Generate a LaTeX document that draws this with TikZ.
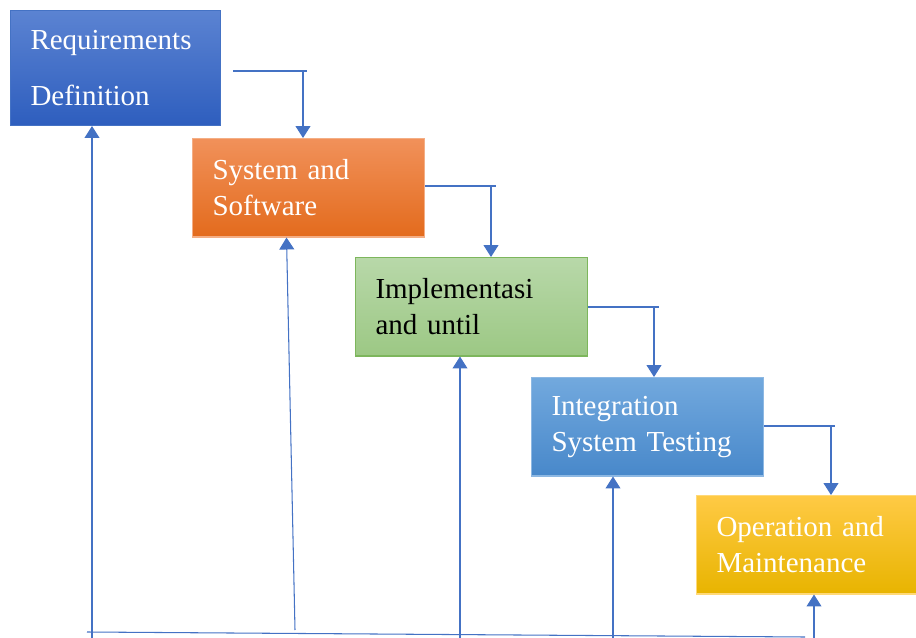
\documentclass[tikz,border=0pt]{standalone}
\usepackage{fontspec}
\setmainfont{Liberation Serif}
\usetikzlibrary{arrows.meta}

\definecolor{linkblue}{HTML}{4472C4}
\definecolor{rdtop}{HTML}{5B83D2}
\definecolor{rdbot}{HTML}{2E5EBE}
\definecolor{sstop}{HTML}{F1915A}
\definecolor{ssbot}{HTML}{E36B1D}
\definecolor{ssline}{HTML}{F4AE85}
\definecolor{imtop}{HTML}{B8D8A9}
\definecolor{imbot}{HTML}{9CC884}
\definecolor{imline}{HTML}{7DB65C}
\definecolor{ittop}{HTML}{72A9DE}
\definecolor{itbot}{HTML}{4888CA}
\definecolor{itline}{HTML}{8DB8E3}
\definecolor{omtop}{HTML}{FFCA45}
\definecolor{ombot}{HTML}{E8B400}
\definecolor{omline}{HTML}{FFD978}

\begin{document}
\begin{tikzpicture}[x=0.02cm,y=-0.02cm,
   phase/.style={rectangle,anchor=north west,align=left,inner xsep=0.4cm,inner ysep=0pt,
      text=white,font=\fontsize{16.5}{20.4}\selectfont,text width=3.84cm,minimum height=1.97cm,
      line width=0.6pt},
   link/.style={linkblue,line width=0.6pt},
   flow/.style={link,-{Triangle[length=6.8pt,width=8.5pt]}}]
   \useasboundingbox (0,0) rectangle (916,638);
   \node[phase,draw=linkblue,top color=rdtop,bottom color=rdbot,
      text width=3.4cm,minimum height=2.3cm,font=\fontsize{16.5}{32.3}\selectfont]
      (rd) at (10,10) {Requirements\\Definition};
   \node[phase,draw=ssline,top color=sstop,bottom color=ssbot]
      (ss) at (192,138) {System and\\Software};
   \node[phase,draw=imline,top color=imtop,bottom color=imbot,text=black]
      (impl) at (355,257) {Implementasi\\and until};
   \node[phase,draw=itline,top color=ittop,bottom color=itbot]
      (ist) at (531,377) {Integration\\System Testing};
   \node[phase,draw=omline,top color=omtop,bottom color=ombot,text width=3.6cm]
      (om) at (696,495) {Operation and\\Maintenance};
   \coordinate (k1) at (307,71);
   \coordinate (k2) at (496,186);
   \coordinate (k3) at (659,307);
   \coordinate (k4) at (835,426);
   \draw[link] ([xshift=0.24cm]rd.east |- k1) -- (k1);
   \draw[flow] ([xshift=-0.08cm]k1) -- ([xshift=-0.08cm]k1 |- ss.north);
   \draw[link] (ss.east |- k2) -- (k2);
   \draw[flow] ([xshift=-0.1cm]k2) -- ([xshift=-0.1cm]k2 |- impl.north);
   \draw[link] (impl.east |- k3) -- (k3);
   \draw[flow] ([xshift=-0.1cm]k3) -- ([xshift=-0.1cm]k3 |- ist.north);
   \draw[link] (ist.east |- k4) -- (k4);
   \draw[flow] ([xshift=-0.08cm]k4) -- ([xshift=-0.08cm]k4 |- om.north);
   \coordinate (b0) at (87,632);
   \coordinate (b1) at (805,637);
   \coordinate (f1) at (92,638);
   \coordinate (f2) at (295,630);
   \coordinate (f3) at (460,638);
   \coordinate (f4) at (613,638);
   \coordinate (f5) at (814,638);
   \draw[link] (b0) -- (b1);
   \draw[flow] (f1) -- (f1 |- rd.south);
   \draw[flow] (f2) -- ([xshift=-0.44cm]ss.south);
   \draw[flow] (f3) -- (f3 |- impl.south);
   \draw[flow] (f4) -- (f4 |- ist.south);
   \draw[flow] (f5) -- (f5 |- om.south);
\end{tikzpicture}
\end{document}
